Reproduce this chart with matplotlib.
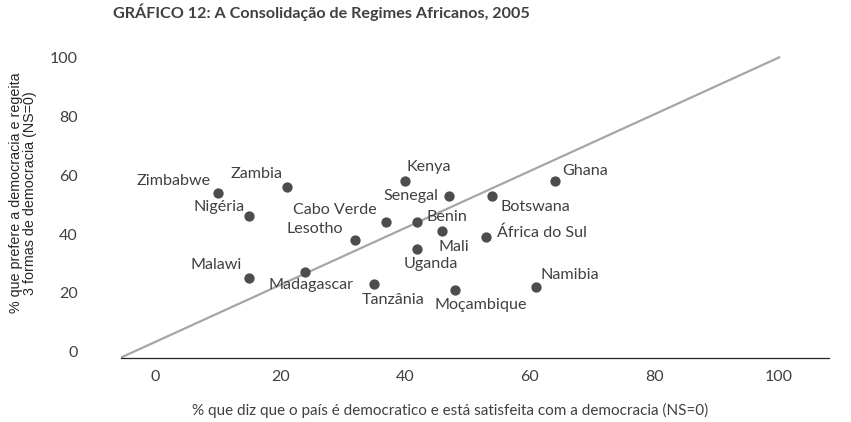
import matplotlib
matplotlib.use("Agg")
import matplotlib.pyplot as plt

countries = ["Zimbabwe", "Zambia", "Nigéria", "Malawi", "Madagascar", "Lesotho",
             "Cabo Verde", "Benin", "Mali", "Uganda", "Tanzânia", "Kenya", "Senegal",
             "Moçambique", "Ghana", "Botswana", "África do Sul", "Namibia"]
satisfied = [10, 21, 15, 15, 24, 32, 37, 42, 46, 42, 35, 40, 47, 48, 64, 54, 53, 61]
prefer = [54, 56, 46, 25, 27, 38, 44, 44, 41, 35, 23, 58, 53, 21, 58, 53, 39, 22]

diag_x = [-5.6, 100]
diag_y = [-2, 100]

xticks = [0, 20, 40, 60, 80, 100]
yticks = [0, 20, 40, 60, 80, 100]

# label placement: (dx, dy) in pixels from the dot, horizontal alignment
label_pos = {
    "Zimbabwe": (-7, 12, "right"),
    "Zambia": (-4, 13, "right"),
    "Nigéria": (-5, 9, "right"),
    "Malawi": (-7, 13, "right"),
    "Madagascar": (6, -13, "center"),
    "Lesotho": (-12, 11, "right"),
    "Cabo Verde": (-10, 12, "right"),
    "Benin": (9, 5, "left"),
    "Mali": (11, -16, "center"),
    "Uganda": (13, -15, "center"),
    "Tanzânia": (19, -16, "center"),
    "Kenya": (1, 14, "left"),
    "Senegal": (-10, 0, "right"),
    "Moçambique": (26, -15, "center"),
    "Ghana": (8, 10, "left"),
    "Botswana": (8, -11, "left"),
    "África do Sul": (11, 4, "left"),
    "Namibia": (5, 12, "left"),
}

text_col = "#404040"
calibri_like = ["Lato", "DejaVu Sans"]

fig = plt.figure(figsize=(8.51, 4.22), dpi=100)
ax = fig.add_axes([0.1418, 0.1524, 0.8324, 0.7465])

ax.plot(diag_x, diag_y, color="#a6a6a6", lw=1.6, zorder=1)
ax.scatter(satisfied, prefer, s=55, color="#4d4d4d", zorder=3, linewidths=0)

for name, x, y in zip(countries, satisfied, prefer):
    dx, dy, ha = label_pos[name]
    ax.annotate(name, (x, y), xytext=(dx, dy), textcoords="offset pixels",
                ha=ha, va="center", fontsize=11.6, color=text_col, family=calibri_like)

ax.set_xlim(-5.6, 108)
ax.set_ylim(-2, 105)
ax.set_xticks(xticks)
ax.set_yticks(yticks)
for spine in ["top", "right", "left"]:
    ax.spines[spine].set_visible(False)
ax.spines["bottom"].set_color("#262626")
ax.spines["bottom"].set_linewidth(0.9)
ax.tick_params(axis="x", length=0, pad=9, labelsize=11.5, labelcolor=text_col)
ax.tick_params(axis="y", length=0, pad=31, labelsize=11.5, labelcolor=text_col)
for lab in ax.get_xticklabels() + ax.get_yticklabels():
    lab.set_family(calibri_like)

fig.text(0.529, 0.027, "% que diz que o país é democratico e está satisfeita com a democracia (NS=0)",
         ha="center", va="center", fontsize=11, color=text_col, family=calibri_like)
fig.text(0.027, 0.543, "% que prefere a democracia e regeita\n3 formas de democracia (NS=0)",
         ha="center", va="center", rotation=90, fontsize=10.3, color="#262626",
         family=["Liberation Sans", "DejaVu Sans"], linespacing=1.0)

fig.text(0.1328, 0.970, "GRÁFICO 12: A Consolidação de Regimes Africanos, 2005",
         ha="left", va="center", fontsize=11.6, fontweight="bold", color=text_col,
         family=calibri_like)

fig.savefig("out.png", dpi=100)
